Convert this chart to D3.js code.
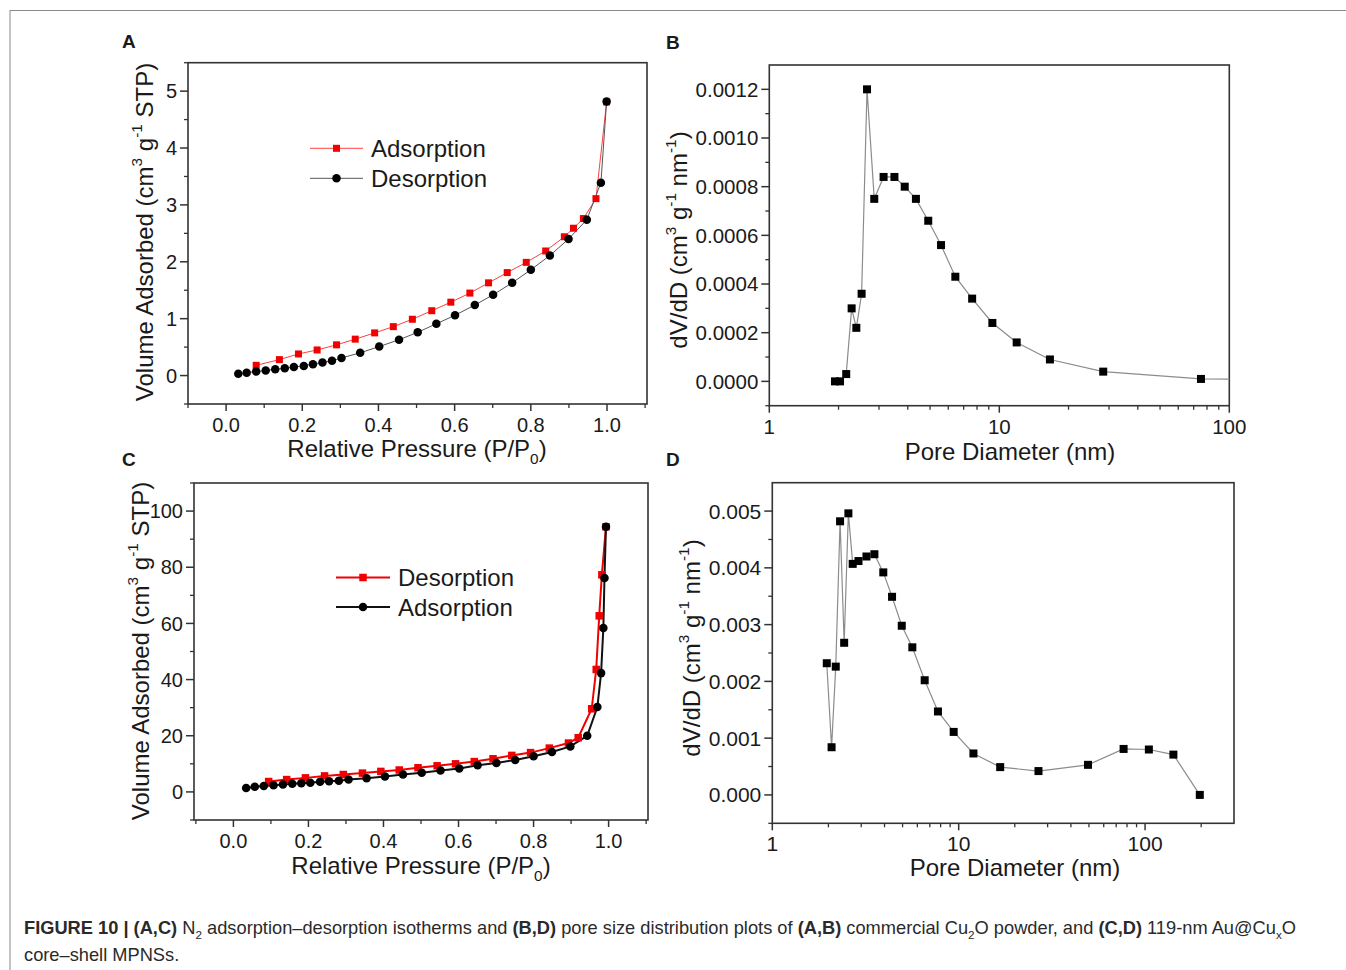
<!DOCTYPE html>
<html><head><meta charset="utf-8">
<script src="https://cdn.jsdelivr.net/npm/d3@7"></script>
<style>
body{margin:0;background:#fff}
svg{display:block}
text{font-family:"Liberation Sans",Arial,sans-serif;fill:#1a1a1a}
</style>
</head><body>
<svg id="chart" width="1346" height="970"></svg>
<script>
// ---------- DATA ----------
// Panel A (commercial Cu2O) isotherm
const aAdsP = [0.079,0.140,0.190,0.239,0.290,0.339,0.390,0.439,0.489,0.540,0.590,0.640,0.689,0.738,0.788,0.839,0.888,0.912,0.938,0.971,0.999];
const aAdsV = [0.18,0.28,0.38,0.45,0.54,0.64,0.75,0.86,0.99,1.14,1.29,1.45,1.63,1.81,1.99,2.19,2.44,2.59,2.76,3.11,4.81];
const aDesP = [0.032,0.054,0.079,0.104,0.129,0.154,0.178,0.204,0.228,0.253,0.278,0.303,0.352,0.402,0.454,0.503,0.552,0.601,0.653,0.701,0.751,0.800,0.850,0.899,0.947,0.984,0.999];
const aDesV = [0.03,0.05,0.07,0.09,0.11,0.13,0.15,0.17,0.20,0.23,0.26,0.31,0.40,0.51,0.63,0.76,0.91,1.06,1.24,1.42,1.63,1.86,2.11,2.40,2.74,3.39,4.82];
// Panel B pore size distribution
const bD = [1.93,2.03,2.16,2.28,2.39,2.52,2.66,2.86,3.14,3.50,3.88,4.34,4.91,5.58,6.44,7.62,9.33,11.9,16.6,28.3,75.3,150];
const bV = [0,0,0.00003,0.0003,0.00022,0.00036,0.0012,0.00075,0.00084,0.00084,0.0008,0.00075,0.00066,0.00056,0.00043,0.00034,0.00024,0.00016,0.00009,0.00004,0.00001,0.000008];
// Panel C (119-nm Au@CuxO) isotherm
const cDesP = [0.094,0.142,0.192,0.243,0.293,0.344,0.393,0.442,0.492,0.543,0.592,0.642,0.692,0.742,0.792,0.842,0.893,0.919,0.955,0.967,0.975,0.982,0.993];
const cDesV = [3.7,4.4,5.0,5.7,6.2,6.7,7.3,7.8,8.6,9.3,10.0,10.8,11.8,13.0,14.0,15.6,17.4,19.3,29.6,43.6,62.7,77.3,94.4];
const cAdsP = [0.034,0.057,0.081,0.107,0.132,0.157,0.181,0.205,0.231,0.255,0.281,0.307,0.355,0.404,0.452,0.502,0.552,0.602,0.651,0.701,0.751,0.800,0.849,0.898,0.943,0.970,0.980,0.986,0.989,0.993];
const cAdsV = [1.4,1.8,2.1,2.4,2.6,2.9,3.1,3.3,3.6,3.8,4.0,4.4,4.9,5.5,6.2,6.8,7.6,8.3,9.5,10.3,11.4,12.7,14.2,16.2,20.0,30.2,42.3,58.4,76.2,94.4];
// Panel D pore size distribution
const dD = [1.96,2.08,2.19,2.31,2.43,2.56,2.70,2.90,3.20,3.53,3.94,4.39,4.95,5.64,6.57,7.74,9.40,12.0,16.7,26.8,49.4,76.7,104.8,141.9,196.6];
const dV = [0.00232,0.00084,0.00226,0.00482,0.00268,0.00496,0.00407,0.00412,0.00420,0.00424,0.00392,0.00349,0.00298,0.00260,0.00202,0.00147,0.00111,0.00073,0.00049,0.00042,0.00053,0.00081,0.00080,0.00071,0.0];

const isoXTicks = [0.0,0.2,0.4,0.6,0.8,1.0];
const aYTicks = [0,1,2,3,4,5];
const cYTicks = [0,20,40,60,80,100];
const bYTicks = [0,0.0002,0.0004,0.0006,0.0008,0.0010,0.0012];
const dYTicks = [0,0.001,0.002,0.003,0.004,0.005];
const logXTicksB = [1,10,100];
const logXTicksD = [1,10,100];

const panelLetters = ["A","B","C","D"];

// ---------- DRAW ----------
const svg = d3.select("#chart");
svg.append("rect").attr("x",10).attr("y",10.5).attr("width",1346).attr("height",970)
  .attr("fill","none").attr("stroke","#8a8a8a").attr("stroke-width",1);

// rich text: parts are strings, {sup}, {sub}, {b}
function rich(t,parts,fs){
  let pending = 0;
  parts.forEach(p=>{
    const ts = t.append("tspan");
    if(typeof p==="string"){ ts.text(p); if(pending){ts.attr("dy",pending); pending=0;} return; }
    if(p.b){ ts.style("font-weight","bold").text(p.b); if(pending){ts.attr("dy",pending); pending=0;} return; }
    const sh = p.sup ? -0.45*fs : 0.3*fs;
    ts.attr("dy",sh+pending).style("font-size",(fs*0.64)+"px").text(p.sup||p.sub);
    pending = -sh;
  });
}

let clipId = 0;
function drawPanel(cfg){
  const g = svg.append("g");
  const x = cfg.x, y = cfg.y;
  const [L,R] = x.range(), [B,T] = y.range();
  const axisCol = "#333";
  g.append("rect").attr("x",L).attr("y",T).attr("width",R-L).attr("height",B-T)
    .attr("fill","none").attr("stroke",axisCol).attr("stroke-width",1.6);
  g.selectAll(null).data(cfg.xMajor).enter().append("line")
    .attr("x1",d=>x(d)).attr("x2",d=>x(d)).attr("y1",B).attr("y2",B+7)
    .attr("stroke",axisCol).attr("stroke-width",1.5);
  g.selectAll(null).data(cfg.xMinor).enter().append("line")
    .attr("x1",d=>x(d)).attr("x2",d=>x(d)).attr("y1",B).attr("y2",B+4)
    .attr("stroke",axisCol).attr("stroke-width",1.3);
  g.selectAll(null).data(cfg.xMajor).enter().append("text")
    .attr("x",d=>x(d)).attr("y",B+28).attr("text-anchor","middle")
    .style("font-size",cfg.tickFont+"px").text(cfg.xFmt);
  g.selectAll(null).data(cfg.yMajor).enter().append("line")
    .attr("x1",L-8).attr("x2",L).attr("y1",d=>y(d)).attr("y2",d=>y(d))
    .attr("stroke",axisCol).attr("stroke-width",1.5);
  g.selectAll(null).data(cfg.yMinor).enter().append("line")
    .attr("x1",L-4).attr("x2",L).attr("y1",d=>y(d)).attr("y2",d=>y(d))
    .attr("stroke",axisCol).attr("stroke-width",1.3);
  g.selectAll(null).data(cfg.yMajor).enter().append("text")
    .attr("x",L-11).attr("y",d=>y(d)).attr("dy","0.36em").attr("text-anchor","end")
    .style("font-size",cfg.tickFont+"px").text(cfg.yFmt);
  const cid = "clip"+(clipId++);
  svg.append("defs").append("clipPath").attr("id",cid)
    .append("rect").attr("x",L).attr("y",T).attr("width",R-L).attr("height",B-T);
  const plot = g.append("g").attr("clip-path","url(#"+cid+")");
  cfg.series.forEach(s=>{
    const pts = s.xs.map((v,i)=>[v,s.ys[i]]);
    plot.append("path").datum(pts)
      .attr("d",d3.line().x(d=>x(d[0])).y(d=>y(d[1])))
      .attr("fill","none").attr("stroke",s.lineColor).attr("stroke-width",s.lineWidth);
  });
  cfg.series.forEach(s=>{
    const pts = s.xs.map((v,i)=>[v,s.ys[i]]);
    if(s.marker==="square"){
      plot.selectAll(null).data(pts).enter().append("rect")
        .attr("x",d=>x(d[0])-s.size/2).attr("y",d=>y(d[1])-s.size/2)
        .attr("width",s.size).attr("height",s.size).attr("fill",s.color);
    } else {
      plot.selectAll(null).data(pts).enter().append("circle")
        .attr("cx",d=>x(d[0])).attr("cy",d=>y(d[1])).attr("r",s.size/2).attr("fill",s.color);
    }
  });
  if(cfg.legend){
    cfg.legend.items.forEach((it,i)=>{
      const ly = cfg.legend.y + i*cfg.legend.dy;
      const lx = cfg.legend.x;
      g.append("line").attr("x1",lx).attr("x2",lx+cfg.legend.len).attr("y1",ly).attr("y2",ly)
        .attr("stroke",it.s.lineColor).attr("stroke-width",it.s.lineWidth);
      const cx = lx+cfg.legend.len/2;
      if(it.s.marker==="square") g.append("rect").attr("x",cx-it.s.size/2).attr("y",ly-it.s.size/2)
        .attr("width",it.s.size).attr("height",it.s.size).attr("fill",it.s.color);
      else g.append("circle").attr("cx",cx).attr("cy",ly).attr("r",it.s.size/2).attr("fill",it.s.color);
      g.append("text").attr("x",lx+cfg.legend.len+8).attr("y",ly).attr("dy","0.36em")
        .style("font-size",cfg.legend.font+"px").text(it.label);
    });
  }
  const xt = g.append("text").attr("x",cfg.xTitle.x).attr("y",cfg.xTitle.y).attr("text-anchor","middle")
    .style("font-size",cfg.titleFont+"px");
  rich(xt,cfg.xTitle.parts,cfg.titleFont);
  const yt = g.append("text").attr("transform",`translate(${cfg.yTitle.x},${cfg.yTitle.y}) rotate(-90)`)
    .attr("text-anchor","middle").style("font-size",cfg.titleFont+"px");
  rich(yt,cfg.yTitle.parts,cfg.titleFont);
  g.append("text").attr("x",cfg.letter.x).attr("y",cfg.letter.y)
    .style("font-size","19px").style("font-weight","bold").text(cfg.letter.t);
}

const yTitleIso = ["Volume Adsorbed (cm",{sup:"3"}," g",{sup:"-1"}," STP)"];
const yTitlePsd = ["dV/dD (cm",{sup:"3"}," g",{sup:"-1"}," nm",{sup:"-1"},")"];
const xTitleIso = ["Relative Pressure (P/P",{sub:"0"},")"];
const xTitlePsd = ["Pore Diameter (nm)"];

function isoMinorX(){ return d3.range(-1,12).map(i=>i/10).filter(v=>Math.round(v*10)%2!==0); }

// Panel A
{
  const x = d3.scaleLinear().domain([-0.1,1.105]).range([188,647]);
  const y = d3.scaleLinear().domain([-0.5,5.5]).range([404,62.7]);
  const sAds = {xs:aAdsP,ys:aAdsV,color:"#f00000",lineColor:"#ff4040",lineWidth:1,marker:"square",size:7};
  const sDes = {xs:aDesP,ys:aDesV,color:"#000",lineColor:"#555",lineWidth:1,marker:"circle",size:8.5};
  drawPanel({x,y,xMajor:isoXTicks,xMinor:isoMinorX(),yMajor:aYTicks,yMinor:d3.range(-0.5,5.6,1),
    xFmt:d3.format(".1f"),yFmt:d3.format("d"),tickFont:20,titleFont:24,
    series:[sAds,sDes],
    legend:{x:310,y:148.3,dy:30,len:53,font:24,items:[{s:sAds,label:"Adsorption"},{s:sDes,label:"Desorption"}]},
    xTitle:{x:417,y:457,parts:xTitleIso},yTitle:{x:153,y:232,parts:yTitleIso},
    letter:{x:122,y:48,t:panelLetters[0]}});
}
// Panel B
{
  const x = d3.scaleLog().domain([1,100]).range([769.3,1229.3]);
  const y = d3.scaleLinear().domain([-0.0001,0.0013]).range([405.7,65]);
  const minors = x.ticks().filter(v=>!logXTicksB.includes(v));
  const s = {xs:bD,ys:bV,color:"#000",lineColor:"#8c8c8c",lineWidth:1.2,marker:"square",size:8};
  drawPanel({x,y,xMajor:logXTicksB,xMinor:minors,yMajor:bYTicks,yMinor:d3.range(0,7).map(i=>-0.0001+i*0.0002),
    xFmt:d3.format("d"),yFmt:d3.format(".4f"),tickFont:20.5,titleFont:24,
    series:[s],
    xTitle:{x:1010,y:460,parts:xTitlePsd},yTitle:{x:687,y:240,parts:yTitlePsd},
    letter:{x:666,y:49,t:panelLetters[1]}});
}
// Panel C
{
  const x = d3.scaleLinear().domain([-0.105,1.105]).range([194,648]);
  const y = d3.scaleLinear().domain([-10,110]).range([820,483]);
  const sDes = {xs:cDesP,ys:cDesV,color:"#f00000",lineColor:"#f00000",lineWidth:2,marker:"square",size:7.5};
  const sAds = {xs:cAdsP,ys:cAdsV,color:"#000",lineColor:"#111",lineWidth:2,marker:"circle",size:8.5};
  drawPanel({x,y,xMajor:isoXTicks,xMinor:isoMinorX(),yMajor:cYTicks,yMinor:d3.range(-10,111,20),
    xFmt:d3.format(".1f"),yFmt:d3.format("d"),tickFont:20,titleFont:24,
    series:[sDes,sAds],
    legend:{x:336,y:577.5,dy:29.5,len:54,font:24,items:[{s:sDes,label:"Desorption"},{s:sAds,label:"Adsorption"}]},
    xTitle:{x:421,y:874,parts:xTitleIso},yTitle:{x:149,y:651,parts:yTitleIso},
    letter:{x:122,y:466,t:panelLetters[2]}});
}
// Panel D
{
  const x = d3.scaleLog().domain([1,300]).range([772.3,1234]);
  const y = d3.scaleLinear().domain([-0.0005,0.0055]).range([823.3,482.7]);
  const minors = x.ticks().filter(v=>!logXTicksD.includes(v) && v<300);
  const s = {xs:dD,ys:dV,color:"#000",lineColor:"#8c8c8c",lineWidth:1.2,marker:"square",size:8};
  drawPanel({x,y,xMajor:logXTicksD,xMinor:minors,yMajor:dYTicks,yMinor:d3.range(0,6).map(i=>-0.0005+i*0.001),
    xFmt:d3.format("d"),yFmt:d3.format(".3f"),tickFont:21,titleFont:24,
    series:[s],
    xTitle:{x:1015,y:876,parts:xTitlePsd},yTitle:{x:700,y:648,parts:yTitlePsd},
    letter:{x:666,y:466,t:panelLetters[3]}});
}

// ---------- CAPTION ----------
const captionLine1 = [
  {b:"FIGURE 10 | (A,C)"}," N",{sub:"2"}," adsorption\u2013desorption isotherms and ",{b:"(B,D)"},
  " pore size distribution plots of ",{b:"(A,B)"}," commercial Cu",{sub:"2"},"O powder, and ",
  {b:"(C,D)"}," 119-nm Au@Cu",{sub:"x"},"O"];
const captionLine2 = ["core\u2013shell MPNSs."];
function caption(parts){
  const t = svg.append("text").attr("x",0).attr("y",0).style("font-size","17.5px").style("fill","#2a2a2a");
  rich(t,parts,17.5);
  return t;
}
const c1 = caption(captionLine1), c2 = caption(captionLine2);
const w1 = c1.node().getComputedTextLength();
const sx = 1273 / w1;
c1.attr("transform",`translate(24,934) scale(${sx},1)`);
c2.attr("transform",`translate(24,961) scale(${sx},1)`);
</script>
</body></html>
